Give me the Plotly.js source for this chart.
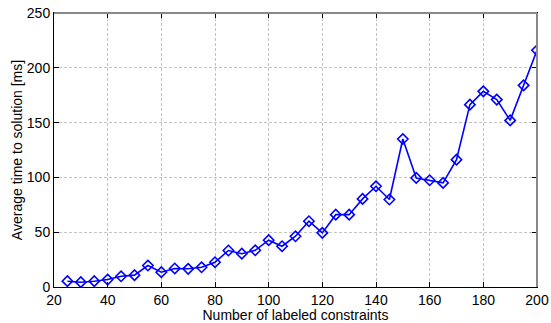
<!DOCTYPE html>
<html><head><meta charset="utf-8">
<script src="https://cdn.plot.ly/plotly-3.0.1.min.js"></script>
<style>html,body{margin:0;padding:0;background:#fff;}#plot{width:551px;height:323px;}</style>
</head><body><div id="plot"></div>
<script>
const constraints = [25,30,35,40,45,50,55,60,65,70,75,80,85,90,95,100,105,110,115,120,125,130,135,140,145,150,155,160,165,170,175,180,185,190,195,200];
const avgTimeMs = [5.3,4.4,5.3,6.8,9.8,10.8,19.6,13.5,16.9,16.6,18,22.6,33.3,30.4,33.5,42.7,37.2,46.3,60,49.4,66,66,80.4,91.9,79.8,135,99.5,97.4,95,116.2,166.4,178.5,171,152,184,216];
const xTicks = [20,40,60,80,100,120,140,160,180,200];
const yTicks = [0,50,100,150,200,250];

const font = {family: 'Liberation Sans, Arial, sans-serif', size: 14, color: '#000'};
Plotly.newPlot('plot', [{
  x: constraints, y: avgTimeMs, type: 'scatter', mode: 'lines+markers',
  line: {color: '#0000ff', width: 1.6},
  marker: {symbol: 'diamond-open', size: 8, color: '#0000ff', line: {width: 1.6, color: '#0000ff'}}
}], {
  width: 551, height: 323,
  margin: {l: 54, r: 14, t: 13, b: 35.5},
  paper_bgcolor: '#fff', plot_bgcolor: '#fff',
  font: font,
  showlegend: false,
  xaxis: {
    range: [20, 200], tickvals: xTicks, ticktext: xTicks.map(String),
    ticks: 'inside', ticklen: 5, tickcolor: '#000', showline: true, linecolor: '#000', linewidth: 1,
    mirror: 'ticks', showgrid: true, gridcolor: '#c4c4c4', griddash: '3px,2px', gridwidth: 1,
    zeroline: false, tickfont: font,
    title: {text: 'Number of labeled constraints', font: font, standoff: 0}
  },
  yaxis: {
    range: [0, 250], tickvals: yTicks, ticktext: yTicks.map(String),
    ticks: 'inside', ticklen: 5, tickcolor: '#000', showline: true, linecolor: '#000', linewidth: 1,
    mirror: 'ticks', showgrid: true, gridcolor: '#c4c4c4', griddash: '3px,2px', gridwidth: 1,
    zeroline: false, tickfont: font,
    title: {text: 'Average time to solution [ms]', font: font, standoff: 0}
  },
  shapes: [
    {type: 'line', xref: 'paper', yref: 'paper', x0: 0, x1: 1, y0: 1, y1: 1, line: {color: '#888', width: 2}, layer: 'above'},
    {type: 'line', xref: 'paper', yref: 'paper', x0: 1, x1: 1, y0: 0, y1: 1, line: {color: '#888', width: 2}, layer: 'above'}
  ]
}, {displayModeBar: false, staticPlot: true});
</script></body></html>
